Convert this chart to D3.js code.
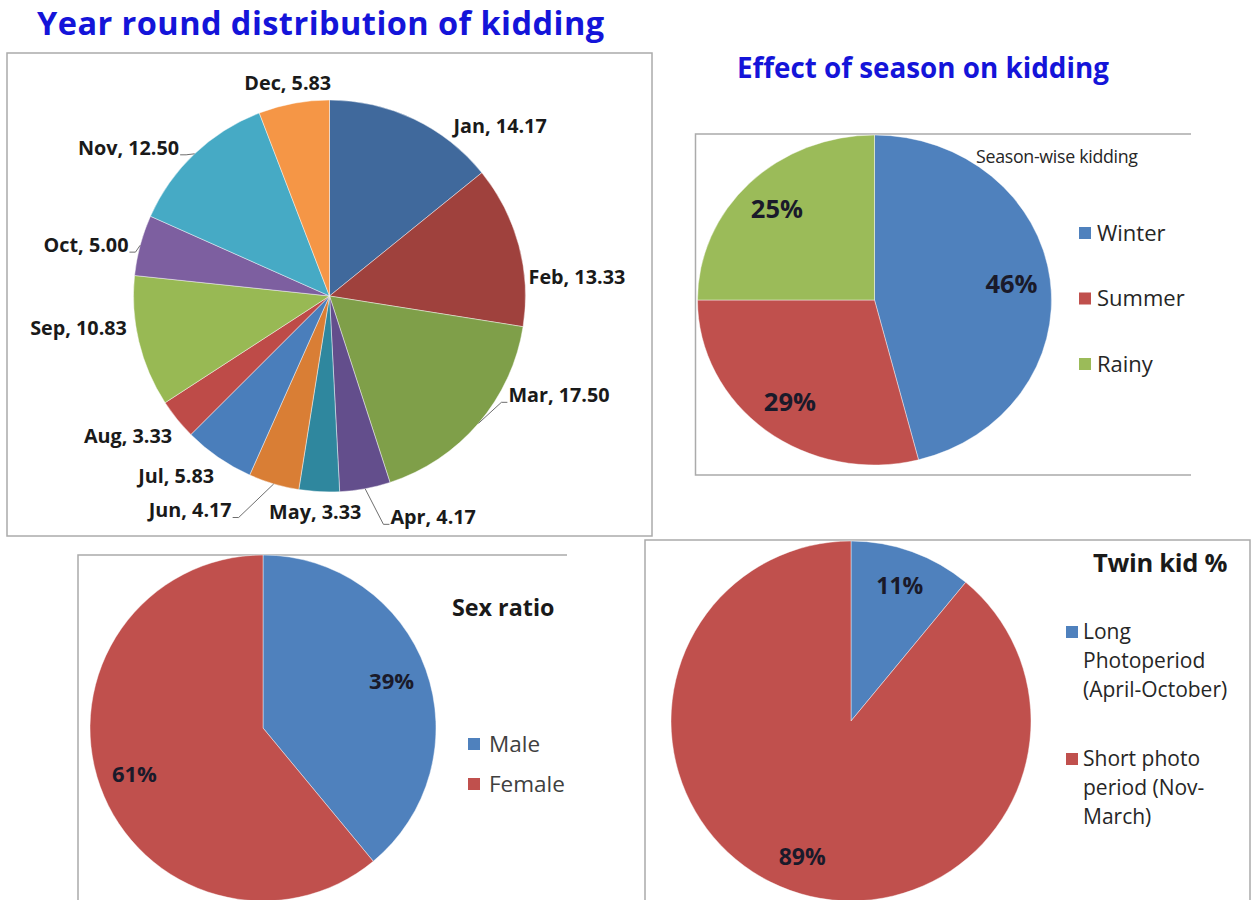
<!DOCTYPE html>
<html><head><meta charset="utf-8">
<script src="https://cdn.jsdelivr.net/npm/d3@7"></script>
<style>body{margin:0;background:#fff}svg{display:block;font-family:"Open Sans",Lato,sans-serif}</style>
</head><body><svg id="c" width="1255" height="900"></svg>
<script>
// ---- data ----
const months = ["Jan","Feb","Mar","Apr","May","Jun","Jul","Aug","Sep","Oct","Nov","Dec"];
const monthValues = [14.17,13.33,17.50,4.17,3.33,4.17,5.83,3.33,10.83,5.00,12.50,5.83];
const monthColors = ["#40699c","#9f413d","#7f9f49","#634e8c","#2f879e","#d97e35","#4a7ebb","#be4b48","#98b954","#7d5fa0","#46aac5","#f59646"];
const monthLabelAngles = [45.2,85.6,113.4,154.9,183.8,213,220.5,235.2,262.7,281.8,306.4,348.9];
const monthLabelRadii = [1.227,1.266,1.276,1.247,1.105,1.305,1.205,1.252,1.291,1.269,1.274,1.107];
const monthLeaders = ["Mar","Apr","Jun","Oct","Nov"];

const seasons = ["Winter","Summer","Rainy"];
const seasonValues = [46,29,25];
const sexes = ["Male","Female"];
const sexValues = [39,61];
const photoperiods = [["Long","Photoperiod","(April-October)"],["Short photo","period (Nov-","March)"]];
const twinValues = [11,89];
const pairColors = ["#4f81bd","#c0504d","#9bbb59"];

const svg = d3.select("#c");
const pie = d3.pie().sort(null).value(d => d);
const rad = a => a * Math.PI / 180;
const pct = v => d3.format(".0f")(v) + "%";

// ---- titles ----
svg.append("text").attr("x",37).attr("y",34.5).attr("font-size",32.5).attr("font-weight",700)
  .attr("letter-spacing",0.45).attr("fill","#1414d9").text("Year round distribution of kidding");
svg.append("text").attr("x",737).attr("y",78).attr("font-size",27.8).attr("font-weight",700)
  .attr("fill","#1414d9").text("Effect of season on kidding");

// ---- chart boxes ----
const boxStroke = "#ababab";
svg.append("rect").attr("x",7).attr("y",53).attr("width",645).attr("height",483)
  .attr("fill","none").attr("stroke",boxStroke).attr("stroke-width",1.5);
svg.append("path").attr("d",d3.line()([[1191,134],[695.5,134],[695.5,475],[1191,475]]))
  .attr("fill","none").attr("stroke",boxStroke).attr("stroke-width",1.5);
svg.append("path").attr("d",d3.line()([[78,901],[78,555],[567,555]]))
  .attr("fill","none").attr("stroke",boxStroke).attr("stroke-width",1.5);
svg.append("path").attr("d",d3.line()([[645,901],[645,540],[1250,540],[1250,901]]))
  .attr("fill","none").attr("stroke",boxStroke).attr("stroke-width",1.5);

// ---- chart 1: monthly pie ----
(function(){
  const cx = 329.5, cy = 296, r = 196;
  const g = svg.append("g").attr("transform",`translate(${cx},${cy})`);
  const arcs = pie(monthValues);
  const arc = d3.arc().innerRadius(0).outerRadius(r);
  g.selectAll("path.s").data(arcs).join("path").attr("class","s")
    .attr("d",arc).attr("fill",(d,i)=>monthColors[i])
    .attr("stroke","#ffffff").attr("stroke-opacity",0.55).attr("stroke-width",0.8);
  const fs = 19.8;
  arcs.forEach((d,i) => {
    const a = rad(monthLabelAngles[i]), R = monthLabelRadii[i]*r;
    const lx = R*Math.sin(a), ly = -R*Math.cos(a);
    const t = g.append("text").attr("x",lx).attr("y",ly).attr("dy","0.35em")
      .attr("text-anchor","middle").attr("font-size",fs).attr("font-weight",700)
      .attr("fill","#1a1a1a").text(`${months[i]}, ${d3.format(".2f")(monthValues[i])}`);
    if (monthLeaders.includes(months[i])) {
      const mid = (d.startAngle + d.endAngle)/2;
      const ex = r*Math.sin(mid), ey = -r*Math.cos(mid);
      const bb = t.node().getBBox();
      const right = lx > ex;
      const ax = right ? bb.x - 1 : bb.x + bb.width + 1;
      const ay = ly + 7;
      const elx = right ? ax - 6 : ax + 6;
      g.append("path").attr("d",d3.line()([[ex,ey],[elx,ay],[ax,ay]]))
        .attr("fill","none").attr("stroke","#6e6e6e").attr("stroke-width",1);
    }
  });
})();

// ---- generic two/three-slice pies ----
function smallPie(opts){
  const {cx, cy, rx, ry, values, labelK, fs} = opts;
  const arcs = pie(values);
  const g = svg.append("g").attr("transform",`translate(${cx},${cy}) scale(1,${ry/rx})`);
  g.selectAll("path").data(arcs).join("path")
    .attr("d",d3.arc().innerRadius(0).outerRadius(rx))
    .attr("fill",(d,i)=>pairColors[i])
    .attr("stroke","#ffffff").attr("stroke-opacity",0.55).attr("stroke-width",0.8);
  arcs.forEach((d,i) => {
    const mid = (d.startAngle + d.endAngle)/2;
    svg.append("text").attr("x",cx + labelK*rx*Math.sin(mid)).attr("y",cy - labelK*ry*Math.cos(mid))
      .attr("dy","0.35em").attr("text-anchor","middle").attr("font-size",fs).attr("font-weight",700)
      .attr("fill","#1a1a2a").text(pct(values[i]));
  });
}
function legend(x, y0, step, lineStep, items, fs, color, gap){
  items.forEach((lines,i) => {
    const y = y0 + i*step;
    svg.append("rect").attr("x",x).attr("y",y-6).attr("width",12).attr("height",12).attr("fill",pairColors[i]);
    lines.forEach((ln,j) => {
      svg.append("text").attr("x",x+gap).attr("y",y + j*lineStep).attr("dy","0.35em")
        .attr("font-size",fs).attr("fill",color).text(ln);
    });
  });
}

// chart 2: season
smallPie({cx:874.5, cy:300, rx:177, ry:165, values:seasonValues, labelK:0.78, fs:25.5});
svg.append("text").attr("x",976).attr("y",157).attr("dy","0.35em").attr("font-size",17.8)
  .attr("letter-spacing",-0.3).attr("fill","#262626").text("Season-wise kidding");
legend(1079, 233, 65.5, 0, seasons.map(s=>[s]), 22, "#262626", 18);

// chart 3: sex ratio
smallPie({cx:263, cy:728, rx:173, ry:173, values:sexValues, labelK:0.79, fs:22});
svg.append("text").attr("x",452).attr("y",608).attr("dy","0.35em").attr("font-size",23.3)
  .attr("font-weight",700).attr("fill","#1a1a1a").text("Sex ratio");
legend(468, 744, 40, 0, sexes.map(s=>[s]), 22.5, "#404040", 21);

// chart 4: twin kid
smallPie({cx:851, cy:721, rx:180, ry:180, values:twinValues, labelK:0.8, fs:23});
svg.append("text").attr("x",1093).attr("y",563).attr("dy","0.35em").attr("font-size",25.5)
  .attr("font-weight",700).attr("letter-spacing",-0.3).attr("fill","#1a1a1a").text("Twin kid %");
legend(1066, 632, 127, 29, photoperiods, 21, "#262626", 17);
</script></body></html>
